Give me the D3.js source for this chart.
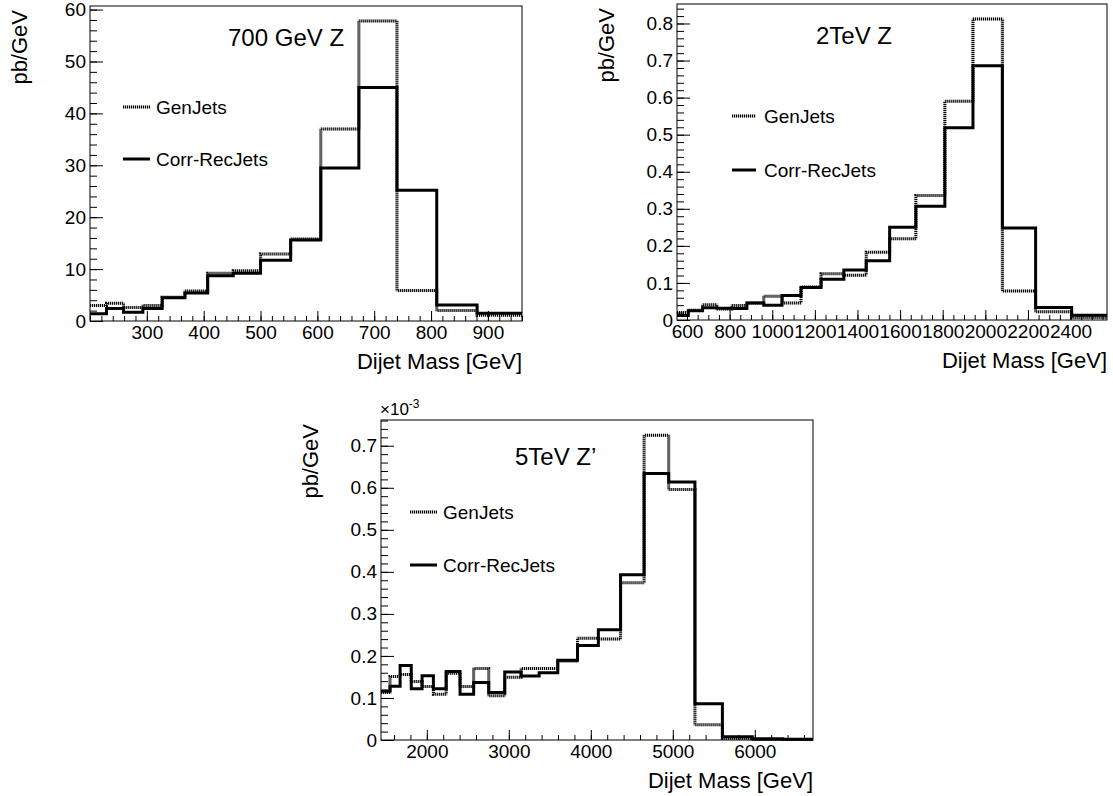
<!DOCTYPE html>
<html>
<head>
<meta charset="utf-8">
<title>Dijet Mass</title>
<style>
  body { margin: 0; background: #fff; }
  svg text { font-family: "Liberation Sans", Arial, sans-serif; fill: #000; }
</style>
</head>
<body>
<svg id="svg" width="1113" height="796"></svg>
<script src="https://d3js.org/d3.v7.min.js"></script>
<script>
// shared dijet mass binning (GeV), each plot uses a slice of it
const massBins = [200, 229, 259, 293, 327, 367, 407, 452, 500, 553, 606, 673, 740, 810, 881,
  960, 1046, 1135, 1229, 1336, 1441, 1551, 1674, 1810, 1942, 2080, 2236, 2405, 2571,
  2755, 2950, 3150, 3370, 3597, 3838, 4092, 4363, 4650, 4950, 5270, 5605, 5968, 6340, 6710]

// 700 GeV Z, pb/GeV
const gen700 = [3.0, 3.4, 2.6, 3.0, 4.6, 5.8, 9.2, 9.7, 12.9, 15.8, 37.0, 57.8, 5.9, 2.0, 1.1]
const rec700 = [1.4, 2.4, 1.7, 2.4, 4.5, 5.4, 8.7, 9.2, 11.7, 15.6, 29.5, 45.0, 25.2, 3.1, 1.5]

// 2 TeV Z, pb/GeV
const gen2000 = [0.020, 0.026, 0.041, 0.030, 0.039, 0.046, 0.064, 0.046, 0.089, 0.125, 0.121,
  0.183, 0.219, 0.336, 0.590, 0.812, 0.078, 0.022, 0.007]
const rec2000 = [0.012, 0.025, 0.033, 0.032, 0.031, 0.046, 0.040, 0.066, 0.088, 0.110, 0.135,
  0.160, 0.250, 0.307, 0.519, 0.686, 0.248, 0.034, 0.013]

// 5 TeV Z', pb/GeV x 10^-3
const gen5000 = [0.113, 0.151, 0.156, 0.139, 0.127, 0.109, 0.159, 0.127, 0.170, 0.105, 0.149,
  0.170, 0.170, 0.188, 0.242, 0.240, 0.374, 0.725, 0.596, 0.036, 0.004, 0.001, 0.001]
const rec5000 = [0.116, 0.128, 0.177, 0.122, 0.153, 0.122, 0.163, 0.109, 0.137, 0.113, 0.162,
  0.152, 0.160, 0.190, 0.225, 0.262, 0.393, 0.634, 0.614, 0.086, 0.008, 0.003, 0.002]

const xTicks700 = [300, 400, 500, 600, 700, 800, 900]
const xTicks2000 = [600, 800, 1000, 1200, 1400, 1600, 1800, 2000, 2200, 2400]
const xTicks5000 = [2000, 3000, 4000, 5000, 6000]
const yTicks700 = [0, 10, 20, 30, 40, 50, 60]
const yTicks2000 = [0, 0.1, 0.2, 0.3, 0.4, 0.5, 0.6, 0.7, 0.8]
const yTicks5000 = [0, 0.1, 0.2, 0.3, 0.4, 0.5, 0.6, 0.7]

const panels = [
  { title: "700 GeV Z", first: 0, gen: gen700, rec: rec700,
    xTicks: xTicks700, xMinor: 20, yTicks: yTicks700, yMinor: 2,
    left: 90, top: 6, width: 432, height: 315,
    titlePos: [138, 40], legend: [33, 60, 66, 101, 153] },
  { title: "2TeV Z", first: 9, gen: gen2000, rec: rec2000,
    xTicks: xTicks2000, xMinor: 50, yTicks: yTicks2000, yMinor: 0.02,
    left: 677, top: 4, width: 430, height: 316,
    titlePos: [139, 40], legend: [55, 79, 87, 112, 166] },
  { title: "5TeV Z\u2019", first: 20, gen: gen5000, rec: rec5000,
    xTicks: xTicks5000, xMinor: 200, yTicks: yTicks5000, yMinor: 0.02,
    left: 381, top: 420, width: 432, height: 320,
    titlePos: [134, 45], legend: [29, 56, 62, 92, 145], exponent: true }
]

const svg = d3.select("#svg")

function minorTicks(domain, step) {
  const k0 = Math.ceil(domain[0] / step - 1e-9)
  const k1 = Math.floor(domain[1] / step + 1e-9)
  return d3.range(k0, k1 + 1).map(k => k * step)
}

// dotted GenJets style: light grey body with dark dots on top
function strokeStyle(sel, dotted, layer) {
  if (!dotted) return sel.attr("stroke", "#000").attr("stroke-width", 3)
  if (layer === 0) return sel.attr("stroke", "#c8c8c8").attr("stroke-width", 3)
  return sel.attr("stroke", "#000").attr("stroke-width", 3).attr("stroke-dasharray", "1,1")
}

function drawHist(g, x, y, edges, values, dotted) {
  const pts = values.map((v, i) => [edges[i], v])
  pts.push([edges[values.length], values[values.length - 1]])
  const line = d3.line().x(d => x(d[0])).y(d => y(d[1])).curve(d3.curveStepAfter)
  const layers = dotted ? [0, 1] : [0]
  layers.forEach(l => {
    strokeStyle(g.append("path").attr("d", line(pts)).attr("fill", "none"), dotted, l)
  })
}

panels.forEach(p => {
  const n = p.rec.length
  const edges = massBins.slice(p.first, p.first + n + 1)
  const yMax = 1.05 * d3.max(p.gen)

  const x = d3.scaleLinear().domain([edges[0], edges[n]]).range([0, p.width])
  const y = d3.scaleLinear().domain([0, yMax]).range([p.height, 0])

  const g = svg.append("g").attr("transform", `translate(${p.left},${p.top})`)

  // histograms
  drawHist(g, x, y, edges, p.gen, true)
  drawHist(g, x, y, edges, p.rec, false)

  // frame
  g.append("rect").attr("width", p.width).attr("height", p.height)
    .attr("fill", "none").attr("stroke", "#000").attr("stroke-width", 1)

  // x axis: minor then major ticks pointing inward
  const xMinorAxis = d3.axisBottom(x).tickValues(minorTicks(x.domain(), p.xMinor))
    .tickSize(-5).tickFormat("")
  g.append("g").attr("transform", `translate(0,${p.height})`).call(xMinorAxis)
  const xAxis = d3.axisBottom(x).tickValues(p.xTicks).tickSize(-10).tickPadding(5)
    .tickFormat(d => String(d))
  g.append("g").attr("transform", `translate(0,${p.height})`).call(xAxis)

  // y axis
  const yMinorAxis = d3.axisLeft(y).tickValues(minorTicks(y.domain(), p.yMinor))
    .tickSize(-7).tickFormat("")
  g.append("g").call(yMinorAxis)
  const yAxis = d3.axisLeft(y).tickValues(p.yTicks).tickSize(-13).tickPadding(4)
    .tickFormat(d => String(d))
  g.append("g").call(yAxis)

  g.selectAll(".domain").remove()
  g.selectAll(".tick line").attr("stroke", "#000").attr("stroke-width", 1)
  g.selectAll(".tick text").attr("font-size", 19)
  g.selectAll("g").attr("font-family", null).attr("font-size", null)

  // axis titles
  g.append("text").attr("x", p.width).attr("y", p.height + 48)
    .attr("text-anchor", "end").attr("font-size", 22).text("Dijet Mass [GeV]")
  g.append("text").attr("transform", `translate(-63,4) rotate(-90)`)
    .attr("text-anchor", "end").attr("font-size", 22).text("pb/GeV")

  if (p.exponent) {
    const t = g.append("text").attr("x", -1).attr("y", -5).attr("font-size", 17)
    t.append("tspan").text("\u00d710")
    t.append("tspan").attr("dy", -7).attr("font-size", 12).text("-3")
  }

  // plot title
  g.append("text").attr("x", p.titlePos[0]).attr("y", p.titlePos[1])
    .attr("font-size", 24).text(p.title)

  // legend
  const [lx1, lx2, tx, yGen, yRec] = p.legend
  const legend = [
    { label: "GenJets", y: yGen, dotted: true },
    { label: "Corr-RecJets", y: yRec, dotted: false }
  ]
  legend.forEach(l => {
    const layers = l.dotted ? [0, 1] : [0]
    layers.forEach(k => {
      strokeStyle(g.append("line").attr("x1", lx1).attr("x2", lx2)
        .attr("y1", l.y).attr("y2", l.y), l.dotted, k)
    })
    g.append("text").attr("x", tx).attr("y", l.y).attr("dy", "0.35em")
      .attr("font-size", 19).text(l.label)
  })
})
</script>
</body>
</html>
